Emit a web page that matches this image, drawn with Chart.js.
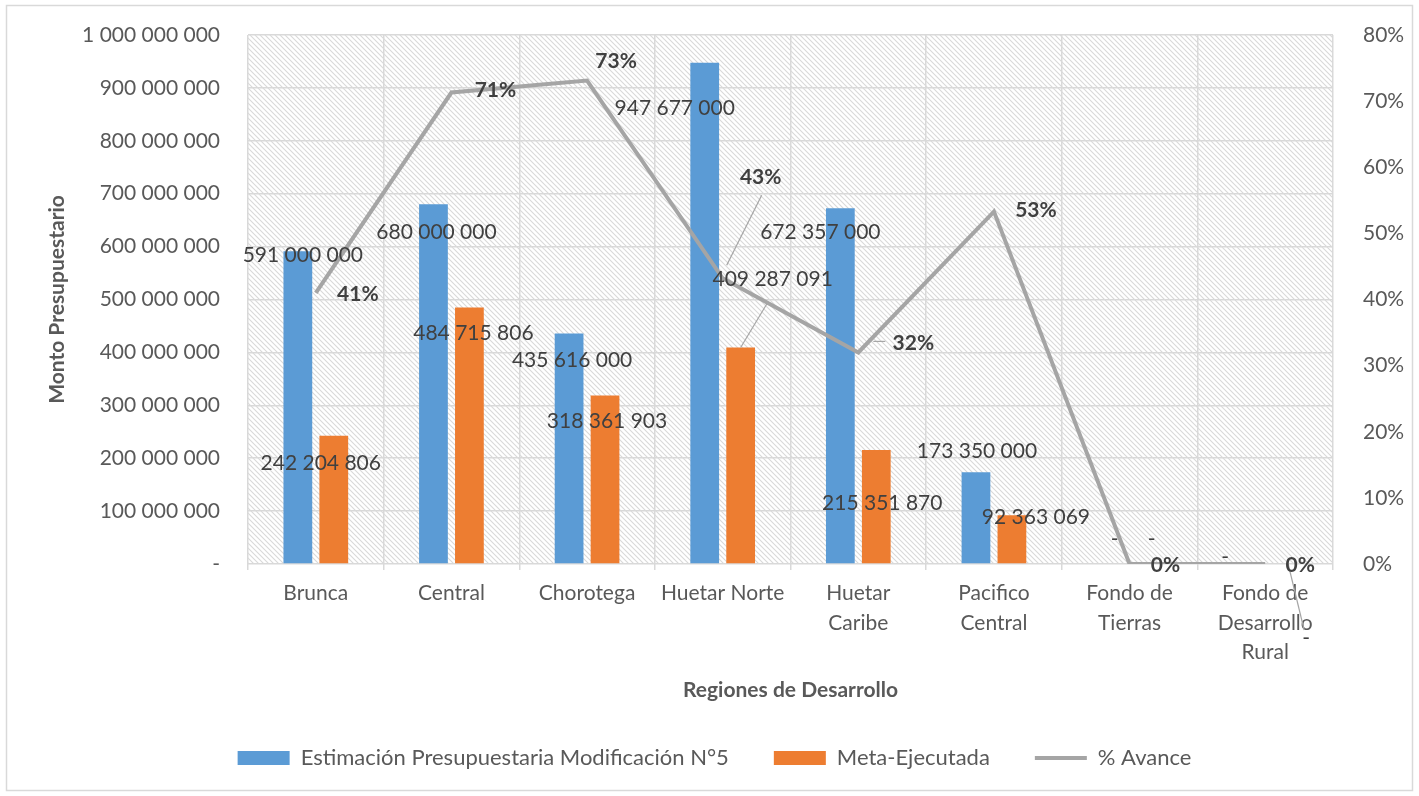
<!DOCTYPE html>
<html><head><meta charset="utf-8">
<script src="https://cdn.jsdelivr.net/npm/chart.js@4"></script>
<style>html,body{margin:0;padding:0;background:#fff;overflow:hidden}</style>
</head><body>
<canvas id="c" width="1419" height="796" style="width:1419px;height:796px;display:block"></canvas>
<script>
const categories = [['Brunca'], ['Central'], ['Chorotega'], ['Huetar Norte'], ['Huetar', 'Caribe'], ['Pacifico', 'Central'], ['Fondo de', 'Tierras'], ['Fondo de', 'Desarrollo', 'Rural']];
const estimacion = [591000000, 680000000, 435616000, 947677000, 672357000, 173350000, 0, 0];
const ejecutada = [242204806, 484715806, 318361903, 409287091, 215351870, 92363069, 0, 0];
const avance = [0.41, 0.713, 0.731, 0.432, 0.32, 0.533, 0, 0];
const seriesNames = ['Estimación Presupuestaria Modificación N°5', 'Meta-Ejecutada', '% Avance'];
const axisTitles = { y: 'Monto Presupuestario', x: 'Regiones de Desarrollo' };

// label placement (presentation only): offsets from each mark's anchor
const labelLayout = {
  0: { off: [[5,4],[3,28],[3,27],[-30,46],[-20,24],[1,-21],[3,-25],[-22,-7]] },
  1: { off: [[-13,27],[4,26],[2,26],[32,-68],[6,53],[24,2],[4,-25],[23,74]],
       leaders: { 3: [[27,-45],[0,0]], 7: [[5,0],[21,66]] } },
  2: { off: [[42,1],[44,-2],[29,-19],[38,-101],[55,-9],[42,-1],[36,1],[35,1]],
       leaders: { 3: [[39,-83],[4,-13]], 4: [[15,-11],[27,-11]] }, bold: true }
};

function fmtNum(v) {
  if (v === 0) return '-';
  return String(Math.round(v)).replace(/\B(?=(\d{3})+(?!\d))/g, ' ');
}

Chart.defaults.font.family = 'Lato';
Chart.defaults.color = '#595959';

const hatch = (() => {
  const c = document.createElement('canvas');
  c.width = 5; c.height = 5;
  const g = c.getContext('2d');
  g.strokeStyle = '#d9d9d9';
  g.lineWidth = 1.1;
  g.beginPath();
  g.moveTo(-1, -1); g.lineTo(6, 6);
  g.moveTo(-1, 4); g.lineTo(1, 6);
  g.moveTo(4, -1); g.lineTo(6, 1);
  g.stroke();
  return c;
})();

const bgPlugin = {
  id: 'bg',
  beforeDraw(chart) {
    const { ctx, chartArea: a } = chart;
    ctx.save();
    ctx.fillStyle = '#fff';
    ctx.fillRect(0, 0, chart.width, chart.height);
    ctx.strokeStyle = '#d9d9d9';
    ctx.lineWidth = 1.5;
    ctx.strokeRect(6.5, 5.5, 1406, 785);
    ctx.fillStyle = ctx.createPattern(hatch, 'repeat');
    ctx.fillRect(a.left, a.top, a.right - a.left, a.bottom - a.top);
    ctx.restore();
  }
};

const labelPlugin = {
  id: 'labels',
  afterDatasetsDraw(chart) {
    const { ctx } = chart;
    ctx.save();
    chart.data.datasets.forEach((ds, di) => {
      const meta = chart.getDatasetMeta(di);
      const lay = labelLayout[di];
      meta.data.forEach((el, i) => {
        const ax = el.x, ay = el.y;
        const v = ds.data[i];
        const txt = di === 2 ? Math.round(v * 100) + '%' : fmtNum(v);
        const o = lay.off[i];
        if (lay.leaders && lay.leaders[i]) {
          const [p1, p2] = lay.leaders[i];
          ctx.strokeStyle = '#a6a6a6';
          ctx.lineWidth = 1.2;
          ctx.beginPath();
          ctx.moveTo(ax + p1[0], ay + p1[1]);
          ctx.lineTo(ax + p2[0], ay + p2[1]);
          ctx.stroke();
        }
        ctx.font = (lay.bold ? 'bold ' : '') + '21px Lato';
        ctx.fillStyle = '#404040';
        ctx.textAlign = 'center';
        ctx.textBaseline = 'middle';
        ctx.fillText(txt, ax + o[0], ay + o[1]);
      });
    });
    ctx.restore();
  }
};

new Chart(document.getElementById('c'), {
  type: 'bar',
  data: {
    labels: categories,
    datasets: [
      { label: seriesNames[0], data: estimacion, backgroundColor: '#5b9bd5', borderWidth: 0,
        yAxisID: 'y', order: 1, categoryPercentage: 0.53, barPercentage: 0.8 },
      { label: seriesNames[1], data: ejecutada, backgroundColor: '#ed7d31', borderWidth: 0,
        yAxisID: 'y', order: 1, categoryPercentage: 0.53, barPercentage: 0.8 },
      { type: 'line', label: seriesNames[2], data: avance, borderColor: '#a5a5a5', backgroundColor: '#a5a5a5',
        borderWidth: 4, pointRadius: 0, tension: 0, yAxisID: 'y1', order: 0 }
    ]
  },
  options: {
    responsive: false,
    animation: false,
    devicePixelRatio: 1,
    layout: { padding: { left: 10, right: 0, top: 35, bottom: 17 } },
    plugins: {
      tooltip: { enabled: false },
      legend: {
        position: 'bottom',
        labels: {
          usePointStyle: true,
          pointStyleWidth: 52,
          boxHeight: 14,
          padding: 45,
          color: '#595959',
          font: { size: 22 },
          sort: (a, b) => a.datasetIndex - b.datasetIndex,
          generateLabels(chart) {
            const items = Chart.defaults.plugins.legend.labels.generateLabels(chart);
            items.forEach(it => { it.pointStyle = it.datasetIndex === 2 ? 'line' : 'rect'; });
            return items;
          }
        }
      }
    },
    scales: {
      x: {
        offset: true,
        grid: { offset: true, color: '#d9d9d9', lineWidth: 1.5, drawTicks: true, tickLength: 6 },
        border: { display: false },
        ticks: { autoSkip: false, maxRotation: 0, minRotation: 0, padding: 9, color: '#595959',
                 font: { size: 21, lineHeight: 1.4 } },
        title: { display: true, text: axisTitles.x, color: '#595959',
                 font: { size: 21, weight: 'bold', lineHeight: 1.2 }, padding: { top: 0, bottom: -1 } },
        afterFit(s) { s.height = 138; }
      },
      y: {
        position: 'left',
        min: 0, max: 1000000000,
        grid: { color: '#d9d9d9', lineWidth: 1.5, drawTicks: false },
        border: { display: false },
        ticks: { stepSize: 100000000, padding: 28, color: '#595959', font: { size: 21 },
                 callback: v => fmtNum(v) },
        title: { display: true, text: axisTitles.y, color: '#595959',
                 font: { size: 21, weight: 'bold', lineHeight: 1.2 }, padding: { top: 35, bottom: 0 } },
        afterFit(s) { s.width = 238; s.paddingTop = 0; s.paddingBottom = 0; }
      },
      y1: {
        position: 'right',
        min: 0, max: 0.8,
        grid: { display: false },
        border: { display: false },
        ticks: { stepSize: 0.1, padding: 22, color: '#595959', font: { size: 21 },
                 callback: v => Math.round(v * 100) + '%' },
        afterFit(s) { s.width = 86; s.paddingTop = 0; s.paddingBottom = 0; }
      }
    }
  },
  plugins: [bgPlugin, labelPlugin]
});
</script>
</body></html>
